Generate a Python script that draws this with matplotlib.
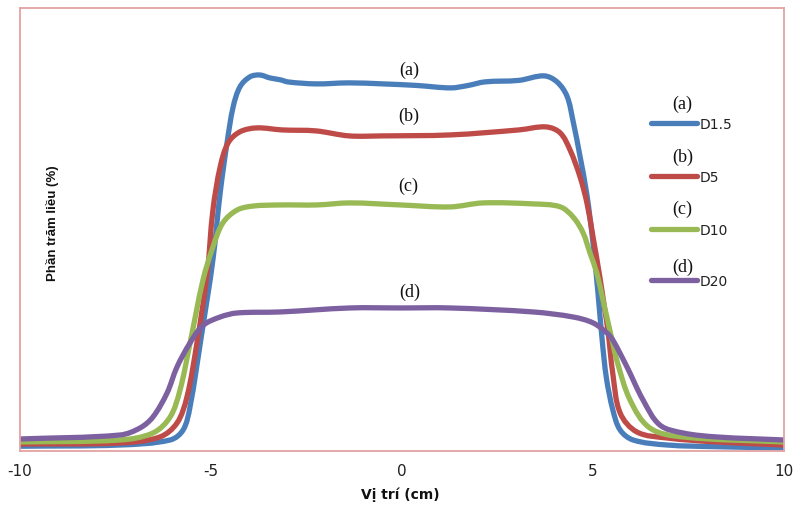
import math
import matplotlib
matplotlib.use("Agg")
import matplotlib.pyplot as plt
from matplotlib.path import Path
from matplotlib.patches import PathPatch

# ---- data ----
x_d15 = [-10, -7.38, -6.07, -5.73, -5.55, -5.25, -4.95, -4.76, -4.58, -4.42, -4.24, -3.98,
         -3.72, -3.46, -3.19, -2.98, -2.25, -1.39, -0.50, 0.39, 1.28, 1.73, 2.17, 3.06, 3.72,
         4.06, 4.32, 4.48, 4.66, 4.84, 5.00, 5.13, 5.24, 5.35, 5.52, 5.71, 6.05, 6.94, 8.25, 10]
y_d15 = [1.3, 1.64, 3.01, 5.74, 12.02, 31.5, 52.2, 70.5, 84.2, 94.0, 99.5, 102.2,
         102.7, 101.9, 101.4, 100.8, 100.27, 100.55, 100.27, 99.84, 99.18, 99.84, 100.82, 101.23,
         102.46, 100.8, 96.9, 90.0, 80.5, 70.0, 56.8, 43.2, 30.3, 20.0, 11.2, 5.74, 3.01, 1.64,
         1.17, 0.82]

x_d5 = [-10, -7.38, -6.34, -5.89, -5.63, -5.37, -5.10, -4.95, -4.76, -4.55, -4.24, -3.80,
        -3.14, -2.25, -1.39, -0.50, 1.28, 3.06, 3.77, 4.14, 4.40, 4.66, 4.84, 5.00, 5.18,
        5.31, 5.39, 5.52, 5.71, 6.15, 6.94, 8.25, 10]
y_d5 = [1.91, 2.19, 3.83, 7.65, 14.75, 29.4, 48.5, 65.8, 77.6, 84.2, 87.2, 88.25,
        87.70, 87.43, 86.07, 86.07, 86.34, 87.70, 88.52, 86.9, 82.2, 74.9, 67.8, 58.5, 47.5,
        38.5, 33.0, 21.0, 10.4, 5.19, 3.55, 2.46, 1.64]

x_d10 = [-10, -7.38, -6.52, -6.07, -5.81, -5.55, -5.21, -4.95, -4.69, -4.32, -3.90, -3.19,
         -2.23, -1.36, -0.05, 1.26, 2.12, 3.43, 4.14, 4.48, 4.74, 4.92, 5.10, 5.26, 5.50,
         5.63, 5.97, 6.49, 7.36, 10]
y_d10 = [2.46, 3.01, 4.92, 9.29, 16.67, 29.4, 46.7, 55.7, 62.3, 65.8, 66.9, 67.2,
         67.21, 67.76, 67.21, 66.67, 67.76, 67.49, 66.7, 63.9, 59.6, 54.1, 48.6, 41.3, 30.3,
         24.5, 13.93, 6.28, 3.83, 2.46]

x_d20 = [-10, -7.38, -6.86, -6.52, -6.15, -5.89, -5.55, -5.21, -4.76, -4.32, -3.19, -1.36,
         -0.05, 1.26, 3.43, 4.48, 5.00, 5.37, 5.52, 5.89, 6.31, 6.75, 7.36, 8.25, 10]
y_d20 = [3.28, 4.37, 6.28, 9.29, 15.85, 22.95, 29.51, 34.3, 36.6, 37.70, 37.98, 39.07,
         39.07, 39.07, 37.98, 36.6, 35.0, 32.2, 30.3, 22.95, 13.93, 7.10, 4.92, 3.83, 3.01]

series_names = ["D1.5", "D5", "D10", "D20"]
series_tags = ["(a)", "(b)", "(c)", "(d)"]
x_ticks = [-10, -5, 0, 5, 10]

colors = ["#4A7EBB", "#BE4B48", "#98B954", "#7D60A0"]

SX, SY = 38.2, 3.66  # approx. pixels per data unit, used only for curve smoothing


def smooth_path(xv, yv):
    """Bezier path passing through every data point (Excel-like smoothed line)."""
    P = [(x * SX, y * SY) for x, y in zip(xv, yv)]
    n = len(P)
    tans = []
    for i in range(n):
        a = P[i - 1] if i > 0 else P[i]
        b = P[i + 1] if i < n - 1 else P[i]
        dx, dy = b[0] - a[0], b[1] - a[1]
        L = math.hypot(dx, dy) or 1.0
        tans.append((dx / L, dy / L))
    verts = [(xv[0], yv[0])]
    codes = [Path.MOVETO]
    for i in range(n - 1):
        p1, p2 = P[i], P[i + 1]
        d = math.hypot(p2[0] - p1[0], p2[1] - p1[1]) / 3.0
        c1 = (p1[0] + tans[i][0] * d, p1[1] + tans[i][1] * d)
        c2 = (p2[0] - tans[i + 1][0] * d, p2[1] - tans[i + 1][1] * d)
        verts += [(c1[0] / SX, c1[1] / SY), (c2[0] / SX, c2[1] / SY), (xv[i + 1], yv[i + 1])]
        codes += [Path.CURVE4] * 3
    return Path(verts, codes)


fig = plt.figure(figsize=(7.94, 5.08), dpi=100)
ax = fig.add_axes([20 / 794, 1 - 451 / 508, 764 / 794, 443 / 508])

xs = [x_d15, x_d5, x_d10, x_d20]
ys = [y_d15, y_d5, y_d10, y_d20]
for xv, yv, c in zip(xs, ys, colors):
    patch = PathPatch(smooth_path(xv, yv), facecolor="none", edgecolor=c, lw=3.8,
                      joinstyle="round", capstyle="round")
    ax.add_patch(patch)

ax.set_xlim(-10, 10)
ax.set_ylim(0, 121)
ax.set_xticks(x_ticks)
ax.set_xticklabels([str(t) for t in x_ticks])
ax.set_yticks([])
ax.tick_params(axis="x", length=0, pad=9, labelsize=11, labelcolor="#222222")
for s in ax.spines.values():
    s.set_color("#E3A3A3")
    s.set_linewidth(1.3)

# curve tags
tag_pos = [(0.18, 104.0), (0.18, 91.5), (0.16, 72.2), (0.2, 43.2)]
for (tx, ty), t in zip(tag_pos, series_tags):
    ax.text(tx, ty, t, family="Liberation Serif", fontsize=13, ha="center", va="center",
            color="#111111")

# legend (manual)
leg_y = [0.740, 0.621, 0.501, 0.386]
tag_y = [0.783, 0.664, 0.546, 0.415]
for ly, tyy, c, n, t in zip(leg_y, tag_y, colors, series_names, series_tags):
    ax.plot([0.826, 0.886], [ly, ly], transform=ax.transAxes, color=c, lw=3.8,
            solid_capstyle="round", clip_on=False)
    ax.text(0.889, ly - 0.004, n, transform=ax.transAxes, fontsize=10, ha="left", va="center",
            color="#222222")
    ax.text(0.867, tyy, t, transform=ax.transAxes, family="Liberation Serif", fontsize=13,
            ha="center", va="center", color="#111111")

ax.text(0.043, 0.515, "Phần trăm liều (%)", transform=ax.transAxes, rotation=90,
        fontsize=9.5, fontweight="bold", ha="center", va="center",
        family=["Liberation Sans Narrow", "Liberation Sans", "DejaVu Sans"], color="#111111")
fig.text(400 / 794, 1 - 495 / 508, "Vị trí (cm)", fontsize=10, fontweight="bold",
         ha="center", va="center", color="#111111")

fig.savefig("out.png", dpi=100)
